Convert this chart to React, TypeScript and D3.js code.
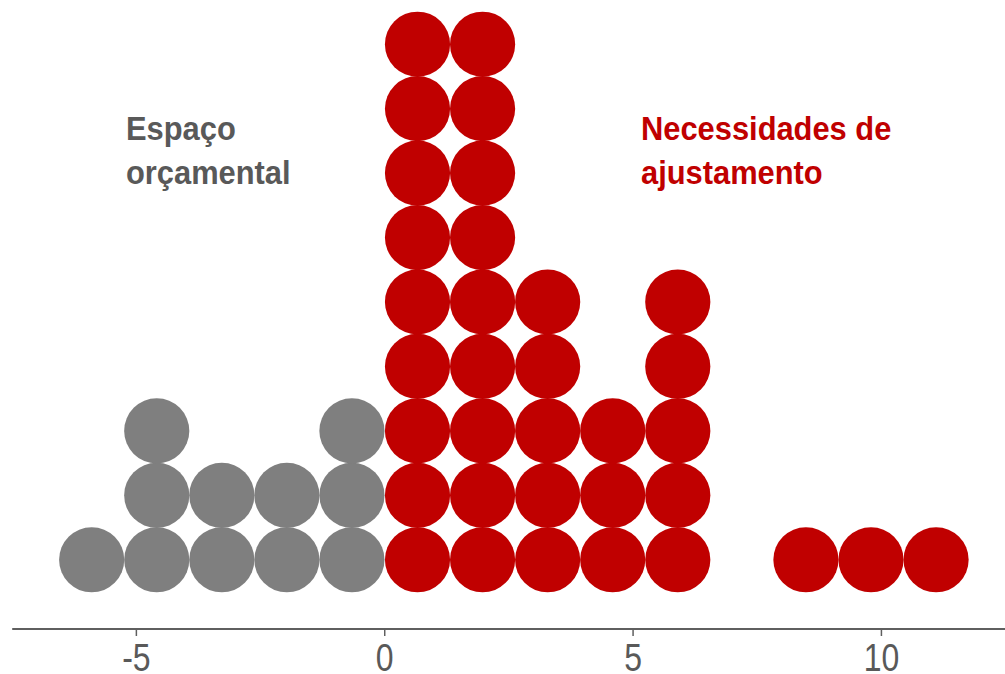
import * as d3 from 'd3';

// dot-plot bins (bin centres on the x axis, dots per bin)
const binCenters = [-5.9, -4.59, -3.28, -1.97, -0.66, 0.66, 1.97, 3.28, 4.59, 5.9, 8.48, 9.79, 11.1];
const binCounts = [1, 3, 2, 2, 3, 9, 9, 5, 3, 5, 1, 1, 1];
const binWidth = 1.312;

const xTicks = [-5, 0, 5, 10];

const leftLabel = ['Espaço', 'orçamental'];
const rightLabel = ['Necessidades de', 'ajustamento'];

const W = 1005;
const H = 674;

const GRAY = '#7f7f7f';
const RED = '#c00000';
const TEXT_GRAY = '#595959';
const AXIS = '#5f5f5f';

// no narrow font installed: squeeze the regular one horizontally
const NARROW = 0.82;
const LABEL_SQUEEZE = 0.935;

export default function App() {
  const x = d3.scaleLinear().domain([-7.5, 12.5]).range([12.2, 1005.6]);
  const y = d3.scaleLinear().domain([0, 9]).range([592, 12]);
  const r = (x(binWidth) - x(0)) / 2;
  const axisY = 629;

  const dots: { cx: number; cy: number; fill: string }[] = [];
  binCenters.forEach((c, i) => {
    d3.range(binCounts[i]).forEach(k => {
      dots.push({ cx: x(c), cy: y(k + 0.5), fill: c < 0 ? GRAY : RED });
    });
  });

  return (
    <svg width={W} height={H} style={{ position: 'absolute', left: 0, top: 0, background: '#fff' }}>
      {dots.map((d, i) => (
        <circle key={i} cx={d.cx} cy={d.cy} r={r} fill={d.fill} />
      ))}

      {/* eixo x */}
      <line x1={x.range()[0]} x2={x.range()[1]} y1={axisY} y2={axisY} stroke={AXIS} strokeWidth={2} />
      {xTicks.map(t => (
        <g key={t} transform={`translate(${x(t)},0)`}>
          <line y1={axisY} y2={axisY + 7} stroke={AXIS} strokeWidth={1.5} />
          <text
            transform={`translate(0,671) scale(${NARROW},1)`}
            textAnchor="middle"
            fill={TEXT_GRAY}
            fontFamily="'Liberation Sans', Arial, sans-serif"
            fontSize={39}
          >
            {t}
          </text>
        </g>
      ))}

      {/* anotações */}
      <text
        transform={`translate(126,0) scale(${LABEL_SQUEEZE},1)`}
        fill={TEXT_GRAY}
        fontFamily="'Liberation Sans', Arial, sans-serif"
        fontWeight="bold"
        fontSize={33}
      >
        {leftLabel.map((s, i) => (
          <tspan key={s} x={0} y={140 + i * 44}>{s}</tspan>
        ))}
      </text>
      <text
        transform={`translate(641,0) scale(${LABEL_SQUEEZE},1)`}
        fill={RED}
        fontFamily="'Liberation Sans', Arial, sans-serif"
        fontWeight="bold"
        fontSize={33}
      >
        {rightLabel.map((s, i) => (
          <tspan key={s} x={0} y={140 + i * 44}>{s}</tspan>
        ))}
      </text>
    </svg>
  );
}
